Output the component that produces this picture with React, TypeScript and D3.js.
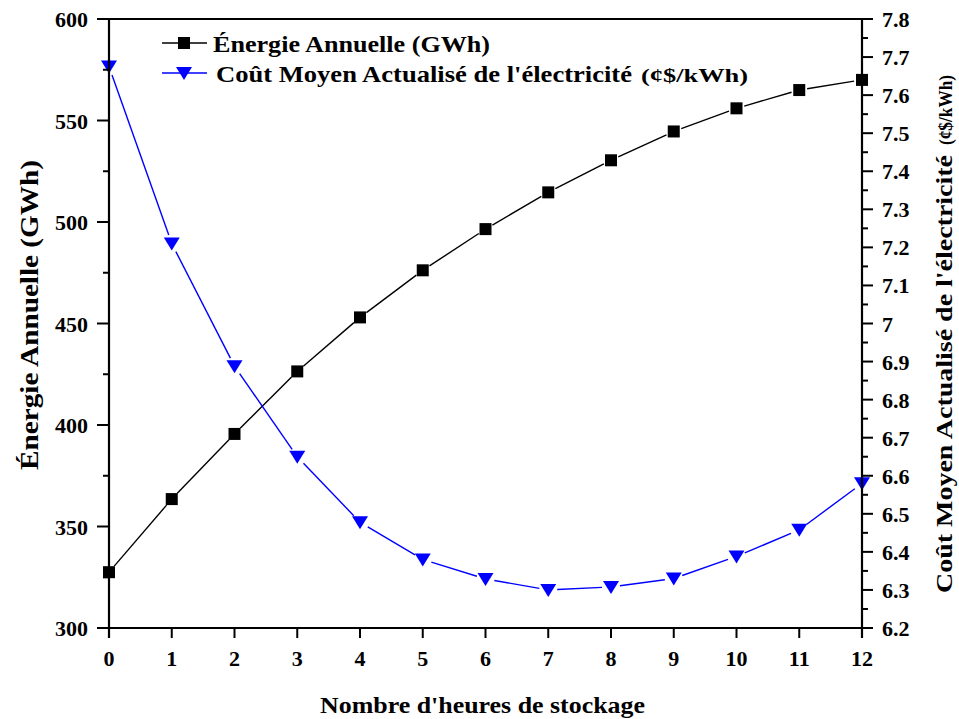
import React from "react";
import * as d3 from "d3";

const hours = [0, 1, 2, 3, 4, 5, 6, 7, 8, 9, 10, 11, 12];
const energy = [327.5, 363.5, 395.6, 426.4, 453, 476.2, 496.5, 514.6, 530.4, 544.6, 556, 565, 570];
const cost = [7.675, 7.21, 6.888, 6.65, 6.478, 6.38, 6.329, 6.3, 6.308, 6.33, 6.388, 6.458, 6.58];
const leftTicks = [300, 350, 400, 450, 500, 550, 600];
const rightTicks = [6.2, 6.3, 6.4, 6.5, 6.6, 6.7, 6.8, 6.9, 7, 7.1, 7.2, 7.3, 7.4, 7.5, 7.6, 7.7, 7.8];

const W = 959, H = 719;
const L = 109, R = 862, T = 19, B = 628;
const FONT = "'Liberation Serif', 'Times New Roman', serif";

export default function App() {
  const x = d3.scaleLinear().domain([0, 12]).range([L, R]);
  const yL = d3.scaleLinear().domain([300, 600]).range([B, T]);
  const yR = d3.scaleLinear().domain([6.2, 7.8]).range([B, T]);

  const ePts = hours.map((h, i) => [x(h), yL(energy[i])] as [number, number]);
  const cPts = hours.map((h, i) => [x(h), yR(cost[i])] as [number, number]);

  const segs = (pts: [number, number][], gap: number) =>
    pts.slice(0, -1).map((p, i) => {
      const q = pts[i + 1];
      const dx = q[0] - p[0], dy = q[1] - p[1];
      const len = Math.hypot(dx, dy);
      const ux = dx / len, uy = dy / len;
      return [p[0] + ux * gap, p[1] + uy * gap, q[0] - ux * gap, q[1] - uy * gap];
    });

  const tri = (cx: number, cy: number, s = 8) =>
    `M${cx - s},${cy - 6}L${cx + s},${cy - 6}L${cx},${cy + 7}Z`;

  const minorL = d3.range(325, 600, 50);
  const minorR = d3.range(6.25, 7.8, 0.1);

  return (
    <svg width={W} height={H} style={{ position: "absolute", left: 0, top: 0, background: "#fff" }} fontFamily={FONT} fontWeight="bold">
      <rect x={0} y={0} width={W} height={H} fill="#fff" />
      {segs(ePts, 8).map((s, i) => (
        <line key={"e" + i} x1={s[0]} y1={s[1]} x2={s[2]} y2={s[3]} stroke="#000" strokeWidth={1.4} />
      ))}
      {segs(cPts, 9).map((s, i) => (
        <line key={"c" + i} x1={s[0]} y1={s[1]} x2={s[2]} y2={s[3]} stroke="#0000ff" strokeWidth={1.4} />
      ))}
      {ePts.map((p, i) => (
        <rect key={"em" + i} x={p[0] - 6} y={p[1] - 6} width={12} height={12} fill="#000" />
      ))}
      {cPts.map((p, i) => (
        <path key={"cm" + i} d={tri(p[0], p[1])} fill="#0000ff" />
      ))}
      <line x1={L} y1={T} x2={R} y2={T} stroke="#000" strokeWidth={2} />
      <line x1={L} y1={B} x2={R} y2={B} stroke="#000" strokeWidth={2} />
      <line x1={L} y1={T - 1} x2={L} y2={B + 10} stroke="#000" strokeWidth={2.2} />
      <line x1={R} y1={T - 1} x2={R} y2={B + 10} stroke="#000" strokeWidth={2.2} />
      {hours.map((h) => (
        <g key={"xt" + h}>
          <line x1={x(h)} y1={B} x2={x(h)} y2={B + 10} stroke="#000" strokeWidth={2} />
          <text x={x(h)} y={666} textAnchor="middle" fontSize={22}>{h}</text>
        </g>
      ))}
      {leftTicks.map((v) => (
        <g key={"lt" + v}>
          <line x1={L - 12} y1={yL(v)} x2={L} y2={yL(v)} stroke="#000" strokeWidth={2} />
          <text x={88} y={yL(v) + 8} textAnchor="end" fontSize={22}>{v}</text>
        </g>
      ))}
      {minorL.map((v) => (
        <line key={"lm" + v} x1={L - 6} y1={yL(v)} x2={L} y2={yL(v)} stroke="#000" strokeWidth={2} />
      ))}
      {rightTicks.map((v) => (
        <g key={"rt" + v}>
          <line x1={R} y1={yR(v)} x2={R + 11} y2={yR(v)} stroke="#000" strokeWidth={2} />
          <text x={882} y={yR(v) + 8} textAnchor="start" fontSize={22}>{String(+v.toFixed(1))}</text>
        </g>
      ))}
      {minorR.map((v) => (
        <line key={"rm" + v} x1={R} y1={yR(v)} x2={R + 6} y2={yR(v)} stroke="#000" strokeWidth={2} />
      ))}
      <text x={320} y={713} fontSize={24} textLength={325} lengthAdjust="spacingAndGlyphs">Nombre d'heures de stockage</text>
      <text transform={`translate(38,470) rotate(-90)`} fontSize={26} textLength={310} lengthAdjust="spacingAndGlyphs">Énergie Annuelle (GWh)</text>
      <text transform={`translate(952,593) rotate(-90)`} fontSize={23}>
        <tspan textLength={438} lengthAdjust="spacingAndGlyphs">Coût Moyen Actualisé de l'électricité</tspan>
        <tspan x={448} fontSize={19} textLength={70} lengthAdjust="spacingAndGlyphs">(¢$/kWh)</tspan>
      </text>
      <line x1={162} y1={43} x2={207} y2={43} stroke="#000" strokeWidth={1.4} />
      <rect x={178} y={37} width={12} height={12} fill="#000" />
      <text x={213} y={52} fontSize={24} textLength={277} lengthAdjust="spacingAndGlyphs">Énergie Annuelle (GWh)</text>
      <line x1={162} y1={73} x2={207} y2={73} stroke="#0000ff" strokeWidth={1.4} />
      <path d={tri(184, 73)} fill="#0000ff" />
      <text x={216} y={82} fontSize={23}>
        <tspan textLength={416} lengthAdjust="spacingAndGlyphs">Coût Moyen Actualisé de l'électricité</tspan>
        <tspan x={641} fontSize={19} textLength={107} lengthAdjust="spacingAndGlyphs">(¢$/kWh)</tspan>
      </text>
    </svg>
  );
}
